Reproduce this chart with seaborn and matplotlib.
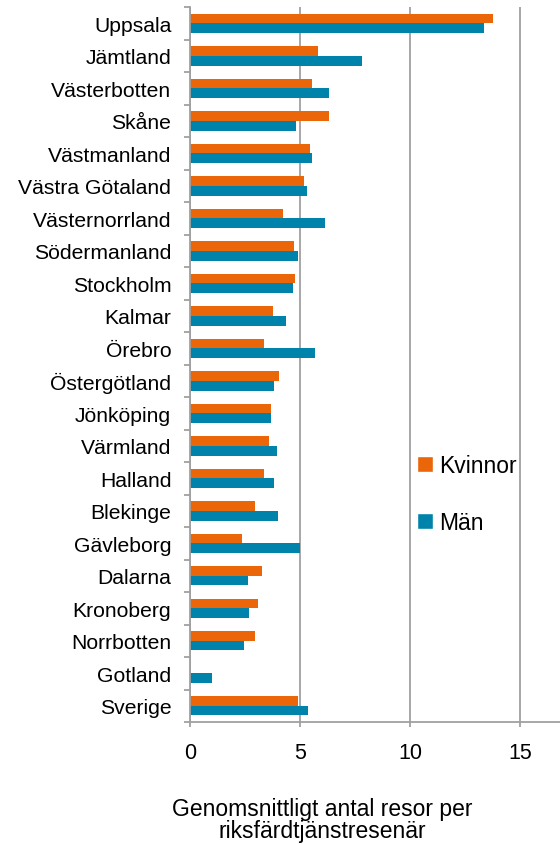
import pandas as pd
import matplotlib.pyplot as plt
import seaborn as sns
from matplotlib.patches import Patch

# Data
lan = ['Uppsala', 'Jämtland', 'Västerbotten', 'Skåne', 'Västmanland',
       'Västra Götaland', 'Västernorrland', 'Södermanland', 'Stockholm',
       'Kalmar', 'Örebro', 'Östergötland', 'Jönköping', 'Värmland',
       'Halland', 'Blekinge', 'Gävleborg', 'Dalarna', 'Kronoberg',
       'Norrbotten', 'Gotland', 'Sverige']
kvinnor = [13.74, 5.82, 5.52, 6.30, 5.47, 5.18, 4.20, 4.71, 4.77, 3.77, 3.35,
           4.02, 3.68, 3.59, 3.38, 2.95, 2.36, 3.29, 3.11, 2.97, 0.0, 4.91]
man = [13.35, 7.83, 6.29, 4.80, 5.56, 5.32, 6.11, 4.91, 4.68, 4.38, 5.68,
       3.83, 3.68, 3.94, 3.80, 4.00, 5.00, 2.62, 2.68, 2.47, 0.98, 5.35]

df = pd.DataFrame({
    'Län': lan * 2,
    'Värde': kvinnor + man,
    'Kön': ['Kvinnor'] * len(lan) + ['Män'] * len(lan),
})

colors = {'Kvinnor': '#EA6608', 'Män': '#0083AA'}

sns.set_style('white')
plt.rcParams['font.family'] = ['Liberation Sans', 'DejaVu Sans']
plt.rcParams['text.color'] = 'black'
plt.rcParams['xtick.color'] = 'black'
plt.rcParams['ytick.color'] = 'black'

fig = plt.figure(figsize=(5.6, 8.45), dpi=100)
ax = fig.add_axes([190 / 560, 1 - 723 / 845, 370 / 560, (723 - 8) / 845])

sns.barplot(data=df, y='Län', x='Värde', hue='Kön', order=lan,
            hue_order=['Kvinnor', 'Män'], palette=colors, orient='h',
            width=0.6, dodge=True, legend=False, ax=ax, saturation=1,
            edgecolor='none')

ax.set_xlim(0, 16.8)
ax.set_ylim(len(lan) - 0.5, -0.5)
ax.set_xticks([0, 5, 10, 15])
ax.set_xlabel('')
ax.set_ylabel('')

# gridlines
ax.grid(axis='x', color='#a0a0a0', linewidth=1.3)
ax.set_axisbelow(True)

for s in ['top', 'right']:
    ax.spines[s].set_visible(False)
for s in ['left', 'bottom']:
    ax.spines[s].set_color('#a0a0a0')
    ax.spines[s].set_linewidth(1.3)

ax.tick_params(axis='y', length=0, pad=13.5, labelsize=15.2, labelcolor='black')
ax.set_yticks([i - 0.5 for i in range(len(lan) + 1)], minor=True)
ax.tick_params(axis='y', which='minor', length=4.5, width=1.3, color='#a0a0a0',
               direction='out', left=True)
ax.tick_params(axis='x', length=3.6, width=1.3, color='#a0a0a0', direction='out',
               bottom=True, pad=11, labelsize=15.5, labelcolor='black')

handles = [Patch(facecolor=colors['Kvinnor']), Patch(facecolor=colors['Män'])]
fig.legend(handles, ['Kvinnor', 'Män'], loc='center left',
           bbox_to_anchor=(396 / 560, 1 - 495 / 845), frameon=False,
           fontsize=16.5, handlelength=0.7, handleheight=0.7,
           handletextpad=0.3, labelspacing=1.45)

fig.text(322 / 560, 1 - 798 / 845,
         'Genomsnittligt antal resor per\nriksfärdtjänstresenär',
         ha='center', va='top', fontsize=16.5, linespacing=0.95)

fig.savefig('out.png', dpi=100)
